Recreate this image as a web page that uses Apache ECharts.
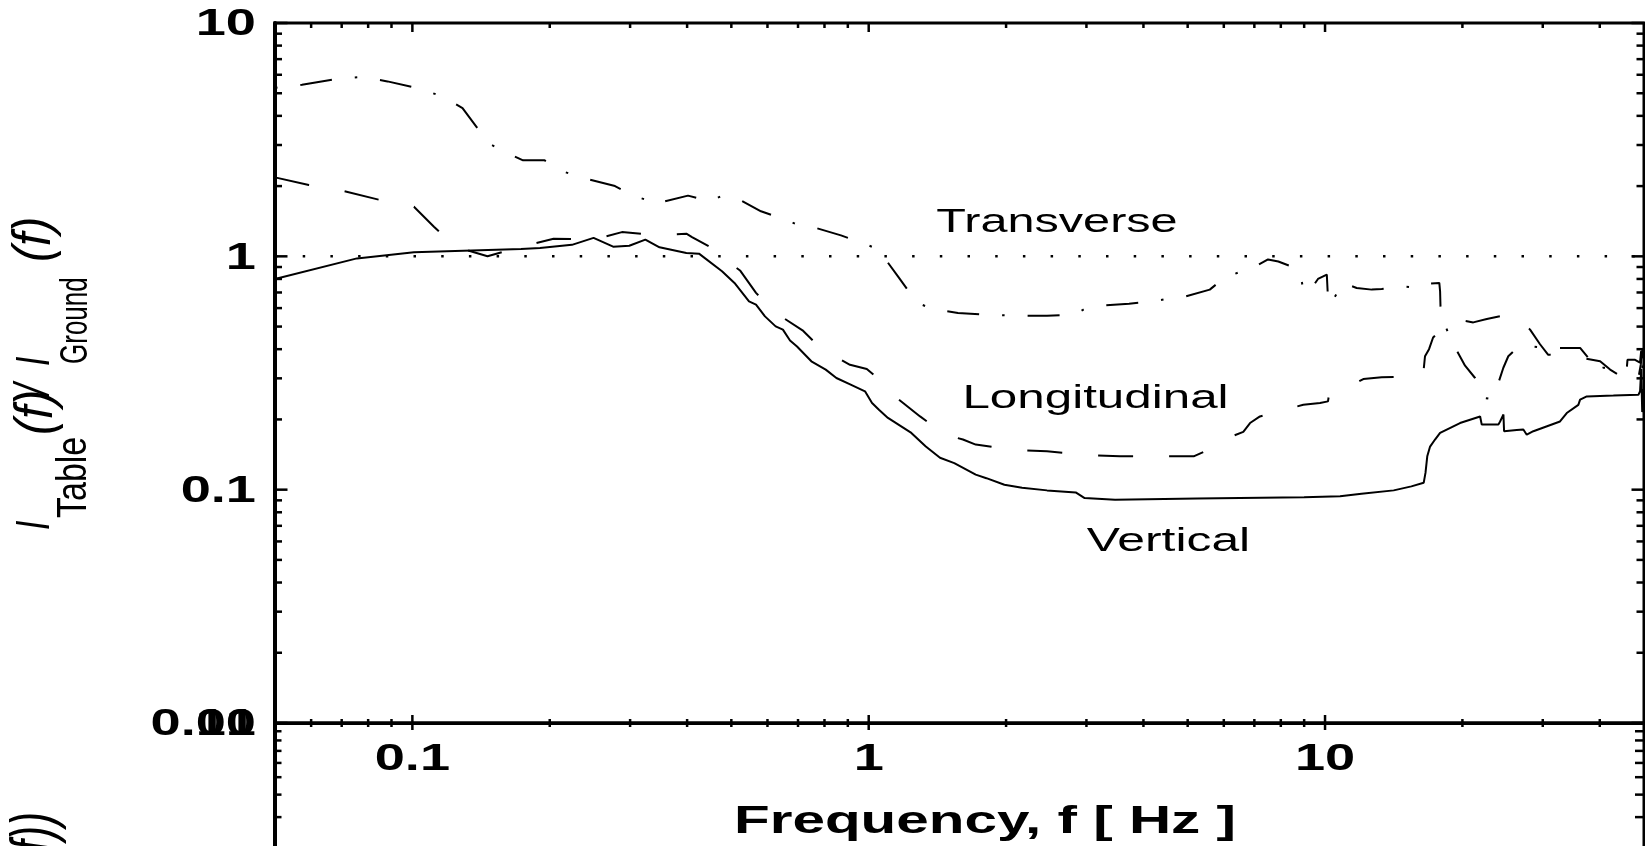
<!DOCTYPE html>
<html>
<head>
<meta charset="utf-8">
<script src="https://cdn.jsdelivr.net/npm/echarts@6/dist/echarts.min.js"></script>
<style>
html,body{margin:0;padding:0;background:#fff;}
#chart{width:1645px;height:846px;}
</style>
</head>
<body>
<div id="chart"></div>
<script>
// ---------------- data ----------------
const seriesNames = ['Vertical', 'Longitudinal', 'Transverse'];

const verticalFreq = [0.05,0.0756,0.1008,0.173,0.1904,0.2237,0.2495,0.2754,0.2988,0.324,0.348,0.3985,0.4247,0.477,0.508,0.5466,0.5663,0.5925,0.6253,0.6486,0.6723,0.6965,0.7487,0.805,0.8496,0.913,0.9815,1.017,1.053,1.102,1.24,1.334,1.433,1.54,1.716,1.811,1.983,2.168,2.459,2.842,2.973,3.466,5.243,8.995,10.79,12.02,14.14,15.46,16.45,16.6,16.75,16.99,17.42,17.87,18.48,19.76,21.87,22.05,23.98,24.19,24.6,24.68,26.31,27.2,27.67,28.61,32.73,33.86,35.9,36.22,37.46,42.84,48.61,49.02,49.3,49.55,49.9];
const verticalRatio = [0.80,0.98,1.04,1.076,1.086,1.12,1.20,1.10,1.11,1.18,1.093,1.034,1.027,0.863,0.769,0.641,0.621,0.553,0.501,0.485,0.436,0.411,0.355,0.327,0.301,0.282,0.264,0.235,0.220,0.203,0.175,0.153,0.137,0.130,0.116,0.112,0.105,0.102,0.0993,0.0973,0.0920,0.0906,0.0917,0.0927,0.0937,0.0961,0.0993,0.1033,0.107,0.118,0.139,0.153,0.164,0.175,0.181,0.193,0.206,0.190,0.190,0.196,0.210,0.178,0.180,0.181,0.172,0.178,0.196,0.213,0.231,0.243,0.251,0.253,0.255,0.264,0.33,0.215,0.27];

const longitudinalFreq = [0.05,0.0593,0.071,0.0843,0.1008,0.1115,0.124,0.1461,0.1703,0.2039,0.2495,0.2879,0.3452,0.3985,0.41,0.4721,0.4942,0.5224,0.5663,0.6253,0.7161,0.79,0.9099,0.9904,1.045,1.153,1.296,1.473,1.609,1.716,2.072,2.459,2.973,3.554,4.305,5.153,5.888,6.14,6.62,6.85,7.20,7.77,8.96,9.75,10.15,10.2,11.53,12.13,13.31,16.15,16.42,16.56,16.9,17.25,17.96,19.59,21.13,22.62,24.56,25.86,28.14,29.59,30.81,35.31,40.07,42.14,43.95,45.85,46.0,47.5,48.53,49.2,49.6,49.8];
const longitudinalRatio = [2.18,2.02,1.90,1.75,1.63,1.34,1.10,1.00,1.09,1.19,1.18,1.27,1.23,1.25,1.21,1.04,0.94,0.87,0.697,0.572,0.482,0.398,0.343,0.329,0.301,0.247,0.206,0.172,0.164,0.156,0.148,0.146,0.141,0.139,0.139,0.139,0.156,0.167,0.177,0.193,0.206,0.215,0.231,0.235,0.239,0.255,0.282,0.298,0.303,0.306,0.316,0.373,0.40,0.449,0.485,0.535,0.521,0.539,0.557,0.572,0.485,0.42,0.379,0.372,0.355,0.327,0.311,0.296,0.277,0.285,0.296,0.344,0.40,0.32];

const transverseFreq = [0.05,0.0573,0.0685,0.0777,0.0882,0.1044,0.1176,0.1288,0.1397,0.1487,0.1642,0.1748,0.1949,0.2138,0.2405,0.278,0.3069,0.3512,0.3578,0.4018,0.4504,0.477,0.5271,0.5807,0.6543,0.6965,0.7696,0.8694,0.9815,1.027,1.093,1.159,1.229,1.309,1.383,1.569,1.795,2.145,2.459,2.818,2.949,3.213,3.72,4.22,4.62,4.96,5.59,6.01,6.57,6.94,7.5,7.9,8.5,8.82,8.96,9.19,9.65,10.09,10.15,10.25,10.97,11.73,12.66,13.31,14.79,16.15,16.99,17.8,17.87,17.91,18.17,18.95,20.27,21.32,22.42,23.11,23.98,24.59,25.21,26.09,28.38,30.81,36.22,38.08,39.05,40.66,45.85,46.0,47.8,49.0,49.4,49.7,50];
const transverseRatio = [5.27,5.44,5.77,5.87,5.62,5.22,4.80,4.32,3.49,3.01,2.73,2.58,2.58,2.31,2.15,2.0,1.81,1.67,1.72,1.82,1.72,1.82,1.73,1.56,1.44,1.37,1.32,1.23,1.13,1.09,0.96,0.82,0.70,0.62,0.594,0.572,0.562,0.557,0.557,0.562,0.59,0.615,0.627,0.641,0.663,0.674,0.72,0.808,0.863,0.892,0.97,0.95,0.90,0.849,0.72,0.697,0.80,0.835,0.66,0.62,0.769,0.732,0.72,0.725,0.743,0.732,0.764,0.769,0.708,0.601,0.527,0.432,0.34,0.301,0.247,0.245,0.287,0.333,0.373,0.398,0.411,0.405,0.405,0.36,0.325,0.333,0.333,0.36,0.36,0.35,0.41,0.30,0.36];

const referenceLevel = 1;

const xMajorTicks = [0.1, 1, 10];
const xMinorTicks = [0.06,0.07,0.08,0.09,0.2,0.3,0.4,0.5,0.6,0.7,0.8,0.9,2,3,4,5,6,7,8,9,20,30,40];
const xTickLabels = ['0.1', '1', '10'];
const yMajorTicks = [0.01, 0.1, 1, 10];
const yMinorTicks = [0.02,0.03,0.04,0.05,0.06,0.07,0.08,0.09,0.2,0.3,0.4,0.5,0.6,0.7,0.8,0.9,2,3,4,5,6,7,8,9];
const yTickLabels = ['0.01', '0.1', '1', '10'];
const lowerYMajorTicks = [10];
const lowerYMinorTicks = [9,8,7,6,5,4,3,2];
const lowerYTickLabels = ['10'];

const X_MIN = 0.05, X_MAX = 50, Y_MIN = 0.01, Y_MAX = 10;
const LOW_MIN = 1, LOW_MAX = 10;

// ---------------- helpers ----------------
const FONT = '"Liberation Sans", Arial, Helvetica, sans-serif';
const mctx = document.createElement('canvas').getContext('2d');
function inkWidth(text, font) {
  mctx.font = font;
  const m = mctx.measureText(text);
  const w = (m.actualBoundingBoxLeft || 0) + (m.actualBoundingBoxRight || 0);
  return w > 0 ? w : m.width;
}
const zip = (a, b) => a.map((v, i) => [v, b[i]]);

const tickFont = 'bold 37px ' + FONT;
const tickK = 73 / inkWidth('0.1', tickFont);
const annFont = '34px ' + FONT;
const freqFont = 'bold 39px ' + FONT;

function tickSeries(gi, points, dx, dy, len) {
  return {
    type: 'custom', xAxisIndex: gi, yAxisIndex: gi, clip: false, silent: true, z: 5,
    data: points,
    renderItem: function (params, api) {
      const p = api.coord([api.value(0), api.value(1)]);
      return { type: 'line', shape: { x1: p[0], y1: p[1], x2: p[0] + dx * len, y2: p[1] + dy * len },
               style: { stroke: '#000', lineWidth: 2.5 } };
    }
  };
}
function labelSeries(gi, points, labels, align, ox, oy) {
  return {
    type: 'custom', xAxisIndex: gi, yAxisIndex: gi, clip: false, silent: true, z: 6,
    data: points,
    renderItem: function (params, api) {
      const p = api.coord([api.value(0), api.value(1)]);
      return { type: 'text', x: p[0] + ox, y: p[1] + oy, scaleX: tickK,
        style: { text: labels[params.dataIndex], font: tickFont, fill: '#000',
                 align: align, verticalAlign: 'middle', textAlign: align, textVerticalAlign: 'middle' } };
    }
  };
}
function hText(text, font, targetInk, x, y) {
  const k = targetInk / inkWidth(text, font);
  return { type: 'text', x: x, y: y, scaleX: k, silent: true,
    style: { text: text, font: font, fill: '#000', align: 'center', verticalAlign: 'middle',
             textAlign: 'center', textVerticalAlign: 'middle' } };
}
function vText(text, font, k, x, y, align) {
  return { type: 'text', x: x, y: y, rotation: Math.PI / 2, scaleY: k, silent: true,
    style: { text: text, font: font, fill: '#000', align: align, verticalAlign: 'middle',
             textAlign: align, textVerticalAlign: 'middle' } };
}

const axisCommon = {
  type: 'log', logBase: 10,
  axisTick: { show: false }, axisLabel: { show: false }, splitLine: { show: false },
  minorTick: { show: false }, minorSplitLine: { show: false }
};

const chart = echarts.init(document.getElementById('chart'), null, { renderer: 'canvas' });

const option = {
  animation: false,
  backgroundColor: '#fff',
  textStyle: { fontFamily: FONT },
  grid: [
    { left: 275, top: 23, width: 1369, height: 700, show: true, borderColor: '#000', borderWidth: 3, outerBoundsMode: 'none', containLabel: false },
    { left: 275, top: 723, width: 1369, height: 180, show: true, borderColor: '#000', borderWidth: 3, outerBoundsMode: 'none', containLabel: false }
  ],
  xAxis: [
    Object.assign({}, axisCommon, { gridIndex: 0, min: X_MIN, max: X_MAX, axisLine: { show: true, onZero: false, lineStyle: { color: '#000', width: 3 } } }),
    Object.assign({}, axisCommon, { gridIndex: 1, min: X_MIN, max: X_MAX, position: 'top', axisLine: { show: false } })
  ],
  yAxis: [
    Object.assign({}, axisCommon, { gridIndex: 0, min: Y_MIN, max: Y_MAX, axisLine: { show: true, onZero: false, lineStyle: { color: '#000', width: 4 } } }),
    Object.assign({}, axisCommon, { gridIndex: 1, min: LOW_MIN, max: LOW_MAX, axisLine: { show: true, onZero: false, lineStyle: { color: '#000', width: 4 } } })
  ],
  series: [
    { name: 'reference', type: 'line', xAxisIndex: 0, yAxisIndex: 0, silent: true, symbol: 'none', clip: true, z: 2,
      data: [[X_MIN, referenceLevel], [X_MAX, referenceLevel]],
      lineStyle: { color: '#000', width: 2.5, type: [2.5, 25.2], dashOffset: 0 } },
    { name: seriesNames[0], type: 'line', xAxisIndex: 0, yAxisIndex: 0, silent: true, symbol: 'none', clip: true, z: 3,
      data: zip(verticalFreq, verticalRatio),
      lineStyle: { color: '#000', width: 2, type: 'solid' } },
    { name: seriesNames[1], type: 'line', xAxisIndex: 0, yAxisIndex: 0, silent: true, symbol: 'none', clip: true, z: 3,
      data: zip(longitudinalFreq, longitudinalRatio),
      lineStyle: { color: '#000', width: 2, type: [35, 36], dashOffset: 0 } },
    { name: seriesNames[2], type: 'line', xAxisIndex: 0, yAxisIndex: 0, silent: true, symbol: 'none', clip: true, z: 3,
      data: zip(transverseFreq, transverseRatio),
      lineStyle: { color: '#000', width: 2, type: [32, 23, 2.5, 23], dashOffset: 55 } },

    // upper panel ticks
    tickSeries(0, xMajorTicks.map(f => [f, Y_MIN]), 0, -1, 8),
    tickSeries(0, xMinorTicks.map(f => [f, Y_MIN]), 0, -1, 4),
    tickSeries(0, xMajorTicks.map(f => [f, Y_MAX]), 0, 1, 9),
    tickSeries(0, xMinorTicks.map(f => [f, Y_MAX]), 0, 1, 5),
    tickSeries(0, yMajorTicks.map(v => [X_MIN, v]), 1, 0, 12.5),
    tickSeries(0, yMinorTicks.map(v => [X_MIN, v]), 1, 0, 7),
    tickSeries(0, yMajorTicks.map(v => [X_MAX, v]), -1, 0, 12.5),
    tickSeries(0, yMinorTicks.map(v => [X_MAX, v]), -1, 0, 7.5),
    // lower panel ticks
    tickSeries(1, xMajorTicks.map(f => [f, LOW_MAX]), 0, 1, 7),
    tickSeries(1, xMinorTicks.map(f => [f, LOW_MAX]), 0, 1, 4),
    tickSeries(1, lowerYMinorTicks.map(v => [X_MIN, v]), 1, 0, 6.5),
    tickSeries(1, lowerYMinorTicks.map(v => [X_MAX, v]), -1, 0, 9),
    // tick labels
    labelSeries(0, xMajorTicks.map(f => [f, Y_MIN]), xTickLabels, 'center', 0, 37),
    labelSeries(0, yMajorTicks.map(v => [X_MIN, v]), yTickLabels, 'right', -19, 2),
    labelSeries(1, lowerYMajorTicks.map(v => [X_MIN, v]), lowerYTickLabels, 'right', -19, 2)
  ],
  graphic: { elements: [
    hText('Transverse', annFont, 240, 1057, 223),
    hText('Longitudinal', annFont, 261, 1095.5, 398.5),
    hText('Vertical', annFont, 161, 1168.5, 542),
    hText('Frequency, f [ Hz ]', freqFont, 496, 985, 822),
    vText('I', 'italic 34px ' + FONT, 1.42, 35.5, 530, 'left'),
    vText('Table', '34px ' + FONT, 1.25, 74.5, 518, 'left'),
    vText('(f)', 'italic 48px ' + FONT, 1.1, 37, 435, 'left'),
    vText('/', 'italic 40px ' + FONT, 1.25, 35.5, 395, 'left'),
    vText('I', 'italic 34px ' + FONT, 1.42, 35.5, 366, 'left'),
    vText('Ground', '26px ' + FONT, 1.48, 76.5, 364, 'left'),
    vText('(f)', 'italic 48px ' + FONT, 1.1, 35, 262, 'left'),
    vText('(f))', 'italic 42px ' + FONT, 1.44, 36, 812, 'right')
  ] }
};
chart.setOption(option);
</script>
</body>
</html>
